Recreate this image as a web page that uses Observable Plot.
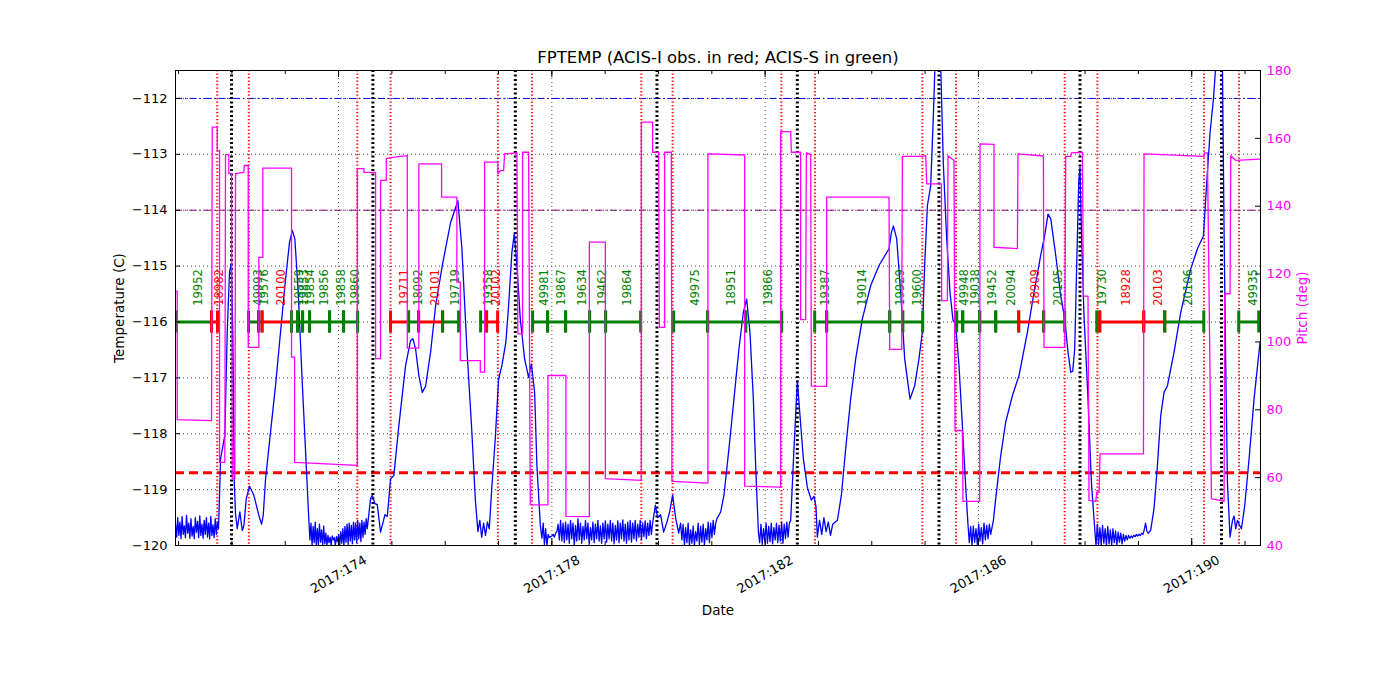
<!DOCTYPE html>
<html><head><meta charset="utf-8">
<script src="https://cdn.jsdelivr.net/npm/d3@7"></script>
<script src="https://cdn.jsdelivr.net/npm/@observablehq/plot@0.6"></script>
<style>body{margin:0;background:#fff;}</style>
</head><body><div id="chart"></div>
<script>
// ---------- data ----------
const title = "FPTEMP (ACIS-I obs. in red; ACIS-S in green)";
const tempTicks = [-120,-119,-118,-117,-116,-115,-114,-113,-112];
const pitchTicks = [40,60,80,100,120,140,160,180];
const majorDays = [174,178,182,186,190];
const minorDays = [171,172,173,174,175,176,177,178,179,180,181,182,183,184,185,186,187,188,189,190,191];
const radzoneDays = [171.725,172.317,174.351,174.975,176.988,177.626,179.678,180.265,182.304,182.934,184.949,185.579,187.618,188.232,190.231,190.888];
const perigeeDays = [171.993,174.644,177.315,179.971,182.604,185.260,187.905,190.558];
const limitPlanning = -112.0, limitYellow = -114.0, limitRed = -118.7;

const obsId = ["19952","18982","49993","19576","20100","19559","19853","19854","19856","19858","19860","19711","18092","20101","19719","19358","20102","49981","19867","19634","19462","19864","49975","18951","19866","19387","19014","19929","19600","49948","19038","19452","20094","18909","20105","19730","18928","20103","20106","49935"];
const obsStart = [170.961,171.618,172.312,172.499,172.565,173.118,173.231,173.325,173.456,173.831,174.094,174.975,175.313,175.501,175.951,176.664,176.776,177.639,177.920,178.258,178.708,179.008,180.284,180.922,181.635,182.929,183.154,184.336,184.580,185.592,185.705,186.024,186.324,186.755,187.224,188.219,188.275,189.100,189.494,190.882];
const obsStop = [171.618,171.730,172.499,172.565,173.118,173.231,173.325,173.456,173.831,174.094,174.356,175.313,175.501,175.951,176.251,176.776,176.983,177.920,178.258,178.708,179.008,179.665,180.922,181.635,182.310,183.154,184.336,184.580,184.955,185.705,186.024,186.324,186.755,187.224,187.618,188.275,189.100,189.494,190.226,191.257];
const obsInst = ["S","I","S","S","I","S","S","S","S","S","S","I","S","I","S","S","I","S","S","S","S","S","S","S","S","S","S","S","S","S","S","S","S","I","S","S","I","I","S","S"];

// FPTEMP explicit points [day, degC]
const tempPts = [
[171.787,-118.45],[171.867,-118.03],[171.912,-116.18],[171.955,-115.11],[171.987,-114.96],[172.017,-116.18],[172.044,-118.87],[172.068,-119.43],[172.100,-119.70],[172.149,-119.40],[172.194,-119.73],[172.224,-119.65],[172.269,-119.16],[172.331,-118.94],[172.411,-119.10],[172.505,-119.46],[172.556,-119.62],[172.588,-119.45],[172.631,-118.81],[172.724,-117.97],[172.818,-117.14],[172.912,-116.18],[173.006,-115.23],[173.081,-114.57],[173.132,-114.36],[173.180,-114.51],[173.244,-115.47],[173.319,-117.08],[173.394,-118.57],
[174.600,-119.16],[174.632,-119.10],[174.681,-119.25],[174.726,-119.27],[174.788,-119.76],[174.831,-119.60],[174.869,-119.45],[174.914,-119.48],[174.975,-118.81],[175.037,-118.75],[175.131,-117.85],[175.257,-116.78],[175.351,-116.33],[175.394,-116.30],[175.444,-116.48],[175.506,-116.96],[175.570,-117.26],[175.632,-117.15],[175.726,-116.54],[175.820,-115.71],[175.945,-114.99],[176.101,-114.22],[176.238,-113.83],[176.313,-114.69],[176.407,-116.48],[176.500,-117.97],[176.564,-119.16],
[176.876,-118.93],[176.939,-118.09],[177.001,-117.02],[177.063,-116.78],[177.138,-116.36],[177.189,-115.71],[177.251,-114.75],[177.296,-114.42],[177.345,-114.99],[177.408,-115.94],[177.489,-116.66],[177.564,-116.99],[177.615,-116.75],[177.677,-117.26],[177.720,-118.57],[177.784,-119.64],
[179.941,-119.28],[179.984,-119.50],[180.040,-119.45],[180.096,-119.76],[180.153,-119.60],[180.209,-119.40],[180.265,-119.10],[180.321,-119.50],[180.378,-119.78],
[181.166,-119.40],[181.228,-119.10],[181.321,-118.27],[181.415,-117.38],[181.509,-116.48],[181.591,-115.83],[181.653,-115.59],[181.715,-116.18],[181.779,-117.38],[181.822,-118.57],
[182.541,-118.27],[182.604,-117.05],[182.653,-117.67],[182.717,-118.45],[182.792,-118.96],[182.867,-119.19],[182.916,-119.12],[182.953,-119.30],
[183.355,-119.55],[183.430,-119.10],[183.510,-118.27],[183.604,-117.38],[183.698,-116.66],[183.824,-115.94],[183.979,-115.35],[184.135,-114.99],[184.323,-114.69],[184.368,-114.40],[184.405,-114.28],[184.467,-114.51],[184.542,-115.47],[184.617,-116.66],[184.717,-117.38],[184.805,-117.14],[184.885,-116.66],[184.949,-116.18],[184.992,-114.99],[185.043,-113.92],[185.105,-113.56],[185.155,-112.31],[185.185,-111.41],[185.236,-110.80],[185.292,-111.41],[185.343,-113.20],[185.405,-114.51],[185.467,-115.47],[185.523,-115.97],[185.574,-116.05],[185.635,-116.78],[185.699,-117.85],[185.761,-118.94],
[186.281,-119.55],[186.324,-119.16],[186.418,-118.39],[186.512,-117.79],[186.637,-117.32],[186.761,-116.96],[186.919,-116.18],[187.043,-115.47],[187.168,-114.81],[187.249,-114.42],[187.305,-114.07],[187.356,-114.15],[187.450,-114.81],[187.543,-115.53],[187.618,-115.94],[187.680,-116.54],[187.731,-116.90],[187.768,-116.88],[187.806,-116.48],[187.843,-114.99],[187.881,-113.50],[187.905,-113.23],[187.932,-114.40],[187.980,-115.89],[188.055,-117.38],[188.119,-118.87],
[189.293,-119.34],[189.357,-118.57],[189.419,-117.67],[189.481,-117.26],[189.545,-117.14],[189.669,-116.54],[189.794,-115.83],[189.982,-115.05],[190.107,-114.69],[190.220,-114.46],[190.282,-113.50],[190.344,-112.61],[190.408,-112.01],[190.451,-111.41],[190.507,-110.80],[190.576,-111.41],[190.607,-114.40],[190.638,-116.78],[190.670,-118.87],[190.719,-119.85],[190.764,-119.55],[190.794,-119.47],[190.826,-119.70],[190.858,-119.55],[190.888,-119.62],[190.933,-119.70],[190.995,-119.28],[191.076,-118.45],[191.169,-117.38],[191.282,-116.36]
];
// noisy stretches near the bottom (evenly spaced in time)
const noise1 = [-119.62,-119.85,-119.5,-119.82,-119.58,-119.88,-119.48,-119.8,-119.65,-119.86,-119.46,-119.78,-119.6,-119.87,-119.52,-119.83,-119.66,-119.88,-119.5,-119.76,-119.57,-119.86,-119.47,-119.82,-119.62,-119.87,-119.55,-119.8,-119.5,-119.85,-119.6,-119.88,-119.48,-119.82,-119.63,-119.86,-119.52,-119.8,-119.58,-119.7];
const noise2 = [-119.55,-119.9,-119.6,-120.0,-119.66,-119.95,-119.58,-120.0,-119.7,-119.98,-119.62,-119.94,-119.72,-120.0,-119.65,-119.97,-119.78,-120.0,-119.82,-119.95,-119.85,-120.0,-119.83,-119.9,-119.86,-120.0,-119.84,-119.93,-119.8,-120.0,-119.75,-119.96,-119.7,-120.0,-119.66,-119.94,-119.62,-119.98,-119.6,-119.92,-119.64,-119.97,-119.58,-119.9,-119.6,-119.95,-119.55,-119.88,-119.6,-119.93,-119.55,-119.85,-119.58,-119.8,-119.52,-119.7];
const noise3 = [-119.75,-119.55,-119.85,-119.6,-119.82,-119.58,-119.7];
const noise4 = [-119.87,-119.6,-119.98,-119.7,-120.0,-119.8,-119.86,-119.84,-119.83,-119.8,-119.85,-119.78,-119.75,-119.62,-119.9,-119.55,-119.92,-119.6,-119.95,-119.58,-119.9,-119.62,-119.96,-119.55,-119.88,-119.6,-120.0,-119.64,-119.92,-119.52,-119.9,-119.6,-119.96,-119.66,-119.9,-119.55,-119.88,-119.6,-119.98,-119.68,-119.9,-119.58,-119.95,-119.62,-119.88,-119.55,-119.92,-119.65,-119.96,-119.6,-119.88,-119.56,-119.94,-119.62,-119.88,-119.55,-119.92,-119.6,-119.97,-119.64,-119.9,-119.56,-119.95,-119.6,-119.88,-119.54,-119.92,-119.62,-119.96,-119.58,-119.9,-119.55,-119.94,-119.6,-119.88,-119.55,-119.92,-119.62,-119.85,-119.55,-119.9,-119.6,-119.84,-119.56,-119.88,-119.6,-119.82,-119.55,-119.8,-119.6];
const noise5 = [-119.6,-119.9,-119.62,-120.0,-119.68,-119.95,-119.6,-120.0,-119.72,-119.96,-119.65,-120.0,-119.75,-119.92,-119.6,-119.98,-119.66,-119.94,-119.62,-120.0,-119.7,-119.9,-119.58,-119.95,-119.6,-119.86,-119.55,-119.8,-119.6,-119.52];
const noise6 = [-119.75,-119.95,-119.62,-119.98,-119.7,-119.92,-119.6,-119.96,-119.66,-119.93,-119.6,-119.97,-119.68,-119.9,-119.6,-119.95,-119.64,-119.92,-119.58,-119.96,-119.62,-119.88,-119.58,-119.85,-119.6,-119.55];
const noise7 = [-119.85,-119.55,-119.8,-119.5,-119.75,-119.58,-119.82,-119.62];
const noise8 = [-119.62,-119.95,-119.66,-120.0,-119.65,-119.94,-119.7,-119.98,-119.62,-119.92,-119.68,-119.97,-119.6,-119.9,-119.64,-119.88,-119.62,-119.8];
const noise9 = [-119.7,-120.0,-119.62,-119.98,-119.68,-120.0,-119.64,-119.96,-119.7,-120.0,-119.66,-119.97,-119.72,-120.0,-119.7,-119.95,-119.74,-120.0,-119.76,-119.94,-119.78,-119.97,-119.8,-119.92,-119.82,-119.9,-119.82,-119.87,-119.83,-119.86,-119.82,-119.84,-119.8,-119.83,-119.8,-119.82,-119.78,-119.8,-119.72,-119.6,-119.74,-119.78,-119.76,-119.72];
const noiseSpans = [[170.942,171.749],[173.443,174.538],[176.613,176.827],[177.814,179.890],[180.415,181.096],[181.873,182.479],[182.979,183.267],[185.804,186.230],[188.181,189.232]];
const noiseVals = [noise1,noise2,noise3,noise4,noise5,noise6,noise7,noise8,noise9];

// Pitch step corners [day, deg]
const pitchPts = [
[170.942,115],[170.974,115],[170.974,77.1],[171.618,76.8],[171.631,163.3],[171.725,163.3],[171.725,156.4],[171.768,156.4],[171.768,64.5],[171.867,64.5],[171.880,155.2],[171.942,155.2],[171.942,149.6],[171.993,149.6],[172.006,59.7],[172.055,59.7],[172.068,149.6],[172.224,150.0],[172.234,152.0],[172.306,152.0],[172.306,98.4],[172.505,98.4],[172.505,124.9],[172.580,124.9],[172.580,151.2],[173.118,151.2],[173.118,95.5],[173.175,95.5],[173.175,64.5],[174.351,63.6],[174.351,151.1],[174.475,151.1],[174.475,150.0],[174.694,150.0],[174.694,95.1],[174.788,95.1],[174.788,147.6],[174.895,147.6],[174.895,154.0],[175.007,154.4],[175.289,154.9],[175.289,98.2],[175.506,98.2],[175.506,152.5],[175.932,152.5],[175.932,142.7],[176.219,142.7],[176.219,117.6],[176.283,117.6],[176.283,94.5],[176.658,94.5],[176.658,91.1],[176.739,91.1],[176.739,153.0],[176.988,153.0],[176.988,149.5],[177.033,150.5],[177.095,150.5],[177.114,155.4],[177.345,155.7],[177.363,102.4],[177.451,102.4],[177.451,155.9],[177.564,155.9],[177.596,52.0],[177.926,52.0],[177.926,90.1],[178.264,90.1],[178.264,48.6],[178.703,48.5],[178.703,129.4],[179.003,129.4],[179.003,59.7],[179.678,59.2],[179.678,164.8],[179.890,164.8],[179.890,155.9],[180.003,155.9],[180.016,104.3],[180.115,104.3],[180.115,155.9],[180.241,155.9],[180.252,58.9],[180.927,58.4],[180.927,155.4],[181.616,155.1],[181.616,57.5],[182.291,57.2],[182.291,162.0],[182.479,162.0],[182.492,155.9],[182.666,155.9],[182.666,106.6],[182.760,106.6],[182.773,155.7],[182.854,155.2],[182.867,87.0],[183.154,86.9],[183.154,142.7],[184.323,142.7],[184.336,97.8],[184.561,97.8],[184.574,154.7],[184.949,154.7],[185.011,155.0],[185.030,146.6],[185.306,146.6],[185.311,112.2],[185.418,112.2],[185.429,154.9],[185.542,153.5],[185.561,73.9],[185.699,73.9],[185.711,53.0],[186.024,53.0],[186.030,158.4],[186.292,158.2],[186.292,127.9],[186.731,127.5],[186.742,155.4],[187.219,154.8],[187.230,98.4],[187.618,98.4],[187.637,154.7],[187.731,154.7],[187.744,155.7],[187.950,155.9],[187.969,113.5],[188.055,113.5],[188.074,53.3],[188.200,53.0],[188.219,55.7],[188.262,55.7],[188.281,67.0],[189.095,67.0],[189.106,155.4],[190.231,154.7],[190.240,155.7],[190.295,155.7],[190.370,53.8],[190.607,53.0],[190.620,114.2],[190.719,114.2],[190.732,154.9],[190.826,153.5],[191.282,153.9]
];

// ---------- build ----------
const W = 1400, H = 700, mL = 175, mR = 140, mT = 70, mB = 155;
const plotW = W - mL - mR, plotH = H - mT - mB;
const xDom = [170.942, 191.29], yDom = [-120, -111.5], pDom = [40, 180];
const p2t = p => yDom[0] + (p - pDom[0]) * (yDom[1] - yDom[0]) / (pDom[1] - pDom[0]);
const tickDx = 5 * (xDom[1] - xDom[0]) / plotW;
const tickDy = 5 * (yDom[1] - yDom[0]) / plotH;
const obsHalf = 11 * (yDom[1] - yDom[0]) / plotH;
const instColor = {I: "#ff0000", S: "#008000"};

const tempData = tempPts.map(([day, temp]) => ({day, temp}));
noiseSpans.forEach(([t0, t1], k) => {
  const v = noiseVals[k], n = v.length;
  v.forEach((temp, i) => tempData.push({day: t0 + (t1 - t0) * i / (n - 1), temp}));
});
tempData.sort((a, b) => a.day - b.day);
const pitchData = pitchPts.map(([day, pitch]) => ({day, t: p2t(pitch)}));

const obs = obsId.map((id, i) => ({id, start: obsStart[i], stop: obsStop[i], color: instColor[obsInst[i]]}));
const obsTicks = obs.flatMap(o => [{day: o.start, color: o.color}, {day: o.stop, color: o.color}]);
const obsY = -116, labelY = -115.71;
const minus = d => (d < 0 ? "\u2212" : "") + Math.abs(d);

const chart = Plot.plot({
  width: W, height: H,
  marginLeft: mL, marginRight: mR, marginTop: mT, marginBottom: mB,
  x: {domain: xDom, axis: null},
  y: {domain: yDom, axis: null},
  style: {fontFamily: "DejaVu Sans", fontSize: "13px", background: "#fff", color: "#000"},
  marks: [
    // grid
    Plot.ruleY(tempTicks.slice(1), {stroke: "#000", strokeWidth: 0.7, strokeDasharray: "1,3"}),
    Plot.ruleX(majorDays, {stroke: "#000", strokeWidth: 0.7, strokeDasharray: "1,3"}),
    // limit lines
    Plot.ruleY([limitPlanning], {stroke: "#0000ff", strokeWidth: 1, strokeDasharray: "7,3,1.5,3"}),
    Plot.ruleY([limitYellow], {stroke: "#800080", strokeWidth: 1, strokeDasharray: "7,3,1.5,3"}),
    Plot.ruleY([limitRed], {stroke: "#ff0000", strokeWidth: 3, strokeDasharray: "9,5"}),
    // radzone and perigee
    Plot.ruleX(radzoneDays, {stroke: "#ff0000", strokeWidth: 2, strokeDasharray: "1.3,2.2"}),
    Plot.ruleX(perigeeDays, {stroke: "#000", strokeWidth: 3, strokeDasharray: "2,2.5"}),
    // temperature
    Plot.line(tempData, {x: "day", y: "temp", stroke: "#0000ff", strokeWidth: 1.3, clip: true}),
    // observations
    Plot.link(obs, {x1: "start", x2: "stop", y1: () => obsY, y2: () => obsY, stroke: "color", strokeWidth: 3, clip: true}),
    Plot.ruleX(obsTicks, {x: "day", y1: () => obsY - obsHalf, y2: () => obsY + obsHalf, stroke: "color", strokeWidth: 3, clip: true}),
    Plot.text(obs, {x: o => (o.start + o.stop) / 2, y: () => labelY, text: "id", fill: "color", rotate: -90, textAnchor: "start", lineAnchor: "top", fontSize: 11.5}),
    // pitch (twin axis)
    Plot.line(pitchData, {x: "day", y: "t", stroke: "#ff00ff", strokeWidth: 1.3, clip: true}),
    // frame and ticks
    Plot.frame({stroke: "#000", strokeWidth: 1}),
    Plot.ruleY(tempTicks, {x1: () => xDom[0], x2: () => xDom[0] + tickDx, stroke: "#000"}),
    Plot.ruleY(pitchTicks.map(p2t), {x1: () => xDom[1] - tickDx, x2: () => xDom[1], stroke: "#000"}),
    Plot.ruleX(minorDays, {y1: () => yDom[0], y2: () => yDom[0] + tickDy * 0.8, stroke: "#000"}),
    Plot.ruleX(majorDays, {y1: () => yDom[0], y2: () => yDom[0] + tickDy * 1.4, stroke: "#000"}),
    Plot.ruleX(minorDays, {y1: () => yDom[1] - tickDy * 0.8, y2: () => yDom[1], stroke: "#000"}),
    Plot.ruleX(majorDays, {y1: () => yDom[1] - tickDy * 1.4, y2: () => yDom[1], stroke: "#000"}),
    // tick labels
    Plot.text(tempTicks, {y: d => d, frameAnchor: "left", dx: -8, textAnchor: "end", lineAnchor: "middle", text: minus, fontSize: 13}),
    Plot.text(pitchTicks, {y: d => p2t(d), frameAnchor: "right", dx: 6, textAnchor: "start", lineAnchor: "middle", text: d => String(d), fill: "#ff00ff", fontSize: 13}),
    Plot.text(majorDays, {x: d => d, frameAnchor: "bottom", dy: 29, rotate: -30, textAnchor: "middle", lineAnchor: "middle", text: d => "2017:" + d, fontSize: 13}),
    // titles
    Plot.text([title], {frameAnchor: "top", dy: -13, textAnchor: "middle", lineAnchor: "middle", text: d => d, fontSize: 16.5}),
    Plot.text(["Date"], {frameAnchor: "bottom", dy: 65, textAnchor: "middle", lineAnchor: "middle", text: d => d, fontSize: 13.5}),
    Plot.text(["Temperature (C)"], {frameAnchor: "left", dx: -56, rotate: -90, textAnchor: "middle", lineAnchor: "middle", text: d => d, fontSize: 13.5}),
    Plot.text(["Pitch (deg)"], {frameAnchor: "right", dx: 42, rotate: -90, textAnchor: "middle", lineAnchor: "middle", text: d => d, fill: "#ff00ff", fontSize: 13.5})
  ]
});
document.getElementById("chart").appendChild(chart);
</script>
</body></html>
